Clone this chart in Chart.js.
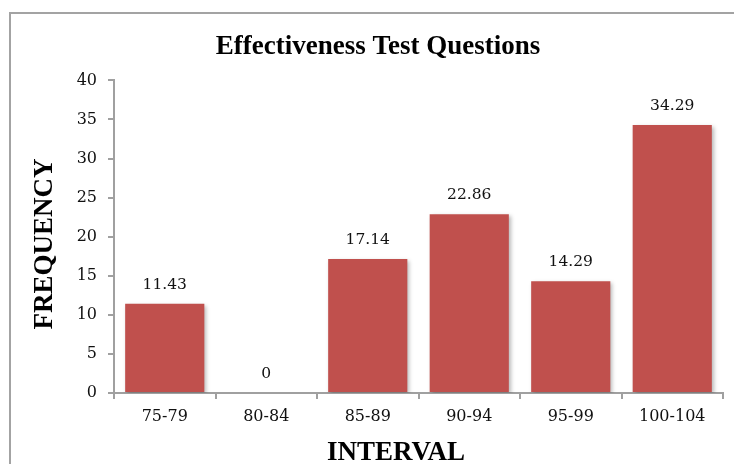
<!DOCTYPE html>
<html>
<head>
<meta charset="utf-8">
<script src="https://cdn.jsdelivr.net/npm/chart.js@4"></script>
<style>
  body { margin: 0; background: #fff; overflow: hidden; }
  #wrap { position: relative; width: 734px; height: 464px; overflow: hidden; }
  #frame { position: absolute; left: 9px; top: 12px; width: 800px; height: 500px; border: 2px solid #a3a3a3; }
  canvas { position: absolute; left: 0; top: 0; }
</style>
</head>
<body>
<div id="wrap">
  <div id="frame"></div>
  <canvas id="chart" width="734" height="464"></canvas>
</div>
<script>
// --- 데이터 ---
const intervals = ['75-79', '80-84', '85-89', '90-94', '95-99', '100-104'];
const frequency = [11.43, 0, 17.14, 22.86, 14.29, 34.29];
const yTicks = [0, 5, 10, 15, 20, 25, 30, 35, 40];

const chartTitle = 'Effectiveness Test Questions';
const xTitle = 'INTERVAL';
const yTitle = 'FREQUENCY';

const serif = "'Liberation Serif', 'Times New Roman', serif";
const tickFont = "'DejaVu Serif', serif";

// 막대 그림자
const barShadow = {
    id: 'barShadow',
    beforeDatasetDraw(chart) {
        const ctx = chart.ctx;
        ctx.save();
        ctx.shadowColor = 'rgba(0,0,0,0.28)';
        ctx.shadowBlur = 4;
        ctx.shadowOffsetX = 2;
        ctx.shadowOffsetY = 2;
    },
    afterDatasetDraw(chart) {
        chart.ctx.restore();
    }
};

// 막대 위 값 표시
const valueLabels = {
    id: 'valueLabels',
    afterDatasetsDraw(chart) {
        const ctx = chart.ctx;
        const meta = chart.getDatasetMeta(0);
        ctx.save();
        ctx.font = '15.5px ' + tickFont;
        ctx.fillStyle = '#111';
        ctx.textAlign = 'center';
        ctx.textBaseline = 'alphabetic';
        meta.data.forEach((bar, i) => {
            ctx.fillText(String(frequency[i]), bar.x, bar.y - 15);
        });
        ctx.restore();
    }
};

// 축 제목
const axisTitles = {
    id: 'axisTitles',
    afterDraw(chart) {
        const ctx = chart.ctx;
        ctx.save();
        ctx.font = 'bold 27px ' + serif;
        ctx.fillStyle = '#000';
        ctx.textAlign = 'center';
        ctx.textBaseline = 'alphabetic';
        ctx.fillText(xTitle, 396, 460);
        ctx.translate(52, 244);
        ctx.rotate(-Math.PI / 2);
        ctx.fillText(yTitle, 0, 0);
        ctx.restore();
    }
};

new Chart(document.getElementById('chart'), {
    type: 'bar',
    data: {
        labels: intervals,
        datasets: [{
            label: yTitle,
            data: frequency,
            backgroundColor: '#C0504D',
            borderWidth: 0,
            barPercentage: 0.78,
            categoryPercentage: 1
        }]
    },
    options: {
        responsive: false,
        animation: false,
        layout: { padding: { left: 33, right: 11, top: 0, bottom: 0 } },
        plugins: {
            legend: { display: false },
            tooltip: { enabled: false },
            title: {
                display: true,
                text: chartTitle,
                color: '#000',
                font: { family: serif, size: 27, weight: 'bold', lineHeight: 1.2 },
                padding: { top: 31, bottom: 17 }
            }
        },
        scales: {
            x: {
                afterFit: s => { s.height = 71; },
                border: { display: true, color: '#a0a0a0', width: 2 },
                grid: { display: true, drawOnChartArea: false, drawTicks: true, tickLength: 6, color: '#a0a0a0', lineWidth: 2 },
                ticks: { color: '#111', font: { family: tickFont, size: 16 }, padding: 8, maxRotation: 0 }
            },
            y: {
                min: 0,
                max: 40,
                afterFit: s => { s.width = 81; },
                afterBuildTicks: s => { s.ticks = yTicks.map(v => ({ value: v })); },
                border: { display: true, color: '#a0a0a0', width: 2 },
                grid: { display: true, drawOnChartArea: false, drawTicks: true, tickLength: 6, color: '#a0a0a0', lineWidth: 2 },
                ticks: { color: '#111', font: { family: tickFont, size: 16 }, padding: 11 }
            }
        }
    },
    plugins: [barShadow, valueLabels, axisTitles]
});
</script>
</body>
</html>
